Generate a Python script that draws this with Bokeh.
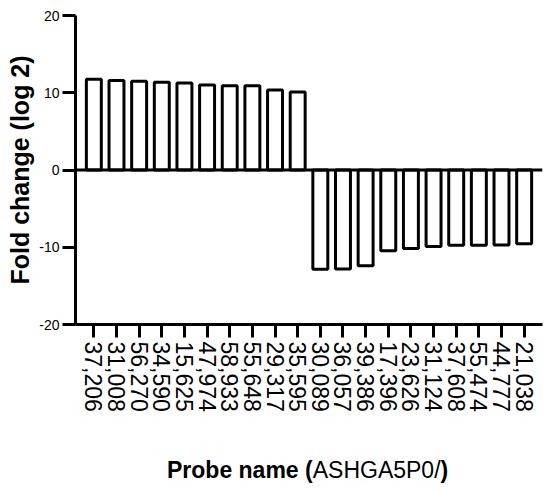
from bokeh.plotting import figure
from bokeh.models import FactorRange, Range1d, FixedTicker, Span, Div
from bokeh.layouts import column
from bokeh.embed import file_html
from bokeh.resources import INLINE

probes = ["37,206", "31,008", "56,270", "34,590", "15,625", "47,974", "58,933",
          "55,648", "29,317", "35,595", "30,089", "36,057", "39,386", "17,396",
          "23,626", "31,124", "37,608", "55,474", "44,777", "21,038"]
fold_change = [11.75, 11.6, 11.5, 11.35, 11.25, 11.0, 10.9, 10.9, 10.35, 10.1,
               -12.85, -12.8, -12.4, -10.45, -10.15, -9.9, -9.75, -9.75, -9.7, -9.55]
y_ticks = [-20, -10, 0, 10, 20]
y_tick_labels = ["-20", "-10", "0", "10", "20"]

FONT = "Liberation Sans"

fig = figure(x_range=FactorRange(factors=probes, range_padding=0.31,
                                 range_padding_units="absolute"),
             y_range=Range1d(-20, 20),
             width=546, height=457,
             min_border_left=75, min_border_right=4,
             min_border_top=15, min_border_bottom=133,
             output_backend="svg", toolbar_location=None)

fig.vbar(x=probes, top=fold_change, width=0.66, fill_color="white",
         line_color="black", line_width=3)

fig.add_layout(Span(location=0, dimension="width", line_color="black", line_width=3))

fig.xgrid.visible = False
fig.ygrid.visible = False
fig.outline_line_color = None

# y axis
fig.yaxis.ticker = FixedTicker(ticks=y_ticks)
fig.yaxis.major_label_overrides = dict(zip(y_ticks, y_tick_labels))
fig.yaxis.minor_tick_line_color = None
fig.yaxis.axis_line_width = 3
fig.yaxis.major_tick_line_width = 3
fig.yaxis.major_tick_out = 13
fig.yaxis.major_tick_in = 0
fig.yaxis.major_label_standoff = 3
fig.yaxis.major_label_text_font = FONT
fig.yaxis.major_label_text_font_size = "14px"
fig.yaxis.major_label_text_color = "black"
fig.yaxis.axis_label = "Fold change (log 2)"
fig.yaxis.axis_label_text_font = FONT
fig.yaxis.axis_label_text_font_style = "bold"
fig.yaxis.axis_label_text_font_size = "25px"
fig.yaxis.axis_label_text_color = "black"
fig.yaxis.axis_label_standoff = 2

# x axis
fig.xaxis.axis_line_width = 3
fig.xaxis.major_tick_line_width = 3
fig.xaxis.major_tick_out = 13
fig.xaxis.major_tick_in = 0
fig.xaxis.major_label_orientation = "vertical"
fig.xaxis.major_label_standoff = 4
fig.xaxis.major_label_text_font = FONT
fig.xaxis.major_label_text_font_size = "23px"
fig.xaxis.major_label_text_color = "black"

# x axis title with mixed weights
x_title_bold_1 = "Probe name ("
x_title_normal = "ASHGA5P0/"
x_title_bold_2 = ")"
title_div = Div(
    text=(f'<div style="font-family:\'{FONT}\';font-size:23px;line-height:26px;'
          f'padding-left:167px;color:#000;white-space:nowrap;margin:0">'
          f'<b>{x_title_bold_1}</b>{x_title_normal}<b>{x_title_bold_2}</b></div>'),
    width=546, height=31, margin=0)

p = column(fig, title_div, spacing=0)

open("out.html", "w").write(file_html(p, INLINE))
